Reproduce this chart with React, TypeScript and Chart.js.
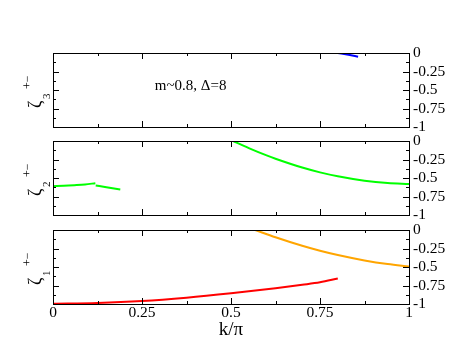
import React, { useEffect, useRef } from 'react';
import { Chart, registerables } from 'chart.js';
Chart.register(...registerables);

const xTickValues = [0, 0.25, 0.5, 0.75, 1];
const xTickLabels = ['0', '0.25', '0.5', '0.75', '1'];
const yTickValues = [0, -0.25, -0.5, -0.75, -1];
const yTickLabels = ['0', '-0.25', '-0.5', '-0.75', '-1'];
const xTitle = 'k/π';
const annotation = 'm~0.8, Δ=8';

// zeta_3 (blue)
const zeta3K = [0.8, 0.83, 0.857];
const zeta3 = [0, -0.025, -0.05];
// zeta_2 (green), three branches
const zeta2aK = [0, 0.03, 0.06, 0.09, 0.119];
const zeta2a = [-0.61, -0.605, -0.597, -0.587, -0.57];
const zeta2bK = [0.12, 0.15, 0.189];
const zeta2b = [-0.6, -0.625, -0.656];
const zeta2cK = [0.506, 0.55, 0.6, 0.625, 0.7, 0.75, 0.8, 0.875, 0.94, 1.0];
const zeta2c = [0, -0.096, -0.195, -0.24, -0.359, -0.424, -0.477, -0.537, -0.568, -0.58];
// zeta_1 (orange + red)
const zeta1aK = [0.568, 0.625, 0.7, 0.75, 0.8, 0.875, 0.94, 1.0];
const zeta1a = [0, -0.098, -0.213, -0.28, -0.338, -0.411, -0.46, -0.493];
const zeta1bK = [0, 0.125, 0.25, 0.375, 0.5, 0.625, 0.7, 0.75, 0.8];
const zeta1b = [-0.995, -0.985, -0.959, -0.914, -0.855, -0.787, -0.74, -0.706, -0.656];

const W = 463;
const H = 358;
const LEFT = 53;
const RIGHT = 409;
const FONT = '"Liberation Serif", "Times New Roman", serif';

type Series = { k: number[]; v: number[]; color: string };
type Panel = { top: number; bottom: number; sub: string; series: Series[]; showX: boolean; note?: boolean };

const panels: Panel[] = [
  { top: 53, bottom: 127, sub: '3', series: [{ k: zeta3K, v: zeta3, color: '#0000ff' }], showX: false, note: true },
  {
    top: 141, bottom: 215, sub: '2',
    series: [
      { k: zeta2aK, v: zeta2a, color: '#00ff00' },
      { k: zeta2bK, v: zeta2b, color: '#00ff00' },
      { k: zeta2cK, v: zeta2c, color: '#00ff00' },
    ],
    showX: false,
  },
  {
    top: 230, bottom: 304, sub: '1',
    series: [
      { k: zeta1aK, v: zeta1a, color: '#ffa500' },
      { k: zeta1bK, v: zeta1b, color: '#ff0000' },
    ],
    showX: true,
  },
];

function makeFramePlugin(p: Panel) {
  return {
    id: 'frame' + p.sub,
    afterDraw(chart: any) {
      const ctx = chart.ctx as CanvasRenderingContext2D;
      const { left, right, top, bottom } = chart.chartArea;
      const xs = chart.scales.x;
      const ys = chart.scales.y;
      ctx.save();
      ctx.strokeStyle = '#000';
      ctx.lineWidth = 1;
      ctx.strokeRect(Math.round(left) + 0.5, Math.round(top) + 0.5, Math.round(right - left), Math.round(bottom - top));
      ctx.beginPath();
      for (let i = 0; i <= 8; i++) {
        const v = i * 0.125;
        const len = i % 2 === 0 ? 6 : 3;
        const px = Math.round(xs.getPixelForValue(v)) + 0.5;
        ctx.moveTo(px, top);
        ctx.lineTo(px, top + len);
        ctx.moveTo(px, bottom);
        ctx.lineTo(px, bottom - len);
        const py = Math.round(ys.getPixelForValue(-v)) + 0.5;
        ctx.moveTo(left, py);
        ctx.lineTo(left + len, py);
        ctx.moveTo(right, py);
        ctx.lineTo(right - len, py);
      }
      ctx.stroke();

      // left axis label: zeta_n^{+-}, rotated
      const cy = (top + bottom) / 2;
      ctx.translate(41, cy + 18);
      ctx.rotate(-Math.PI / 2);
      ctx.fillStyle = '#000';
      ctx.textBaseline = 'alphabetic';
      ctx.textAlign = 'left';
      ctx.font = '18px ' + FONT;
      ctx.fillText('ζ', 0, 0);
      ctx.font = '11px ' + FONT;
      ctx.fillText(p.sub, 9, 9);
      ctx.font = '12px ' + FONT;
      ctx.fillText('+−', 19, -10.5);
      ctx.restore();

      if (p.note) {
        ctx.save();
        ctx.fillStyle = '#000';
        ctx.font = '15px ' + FONT;
        ctx.textBaseline = 'alphabetic';
        ctx.textAlign = 'left';
        ctx.fillText(annotation, xs.getPixelForValue(0.286), ys.getPixelForValue(-0.5));
        ctx.restore();
      }
    },
  };
}

function PanelChart({ p }: { p: Panel }) {
  const ref = useRef<HTMLCanvasElement | null>(null);
  useEffect(() => {
    if (!ref.current) return;
    const chart = new Chart(ref.current, {
      type: 'scatter',
      data: {
        datasets: p.series.map((s) => ({
          data: s.k.map((k, i) => ({ x: k, y: s.v[i] })),
          showLine: true,
          borderColor: s.color,
          backgroundColor: s.color,
          borderWidth: 2,
          pointRadius: 0,
          cubicInterpolationMode: 'monotone' as const,
        })),
      },
      options: {
        responsive: false,
        animation: false,
        devicePixelRatio: 1,
        events: [],
        layout: { padding: { left: LEFT, top: p.top, right: 0, bottom: p.showX ? 0 : H - p.bottom } },
        plugins: { legend: { display: false }, tooltip: { enabled: false } },
        scales: {
          x: {
            type: 'linear',
            min: 0,
            max: 1,
            display: p.showX,
            afterBuildTicks: (s: any) => { s.ticks = xTickValues.map((v) => ({ value: v })); },
            afterFit: (s: any) => { s.height = p.showX ? H - p.bottom : 0; },
            grid: { display: false, drawTicks: false },
            border: { display: false },
            ticks: {
              padding: 0,
              maxRotation: 0,
              autoSkip: false,
              color: '#000',
              font: { family: FONT, size: 15.5 },
              callback: (v: any) => xTickLabels[xTickValues.indexOf(Number(v))] ?? '',
            },
            title: {
              display: true,
              text: xTitle,
              color: '#000',
              font: { family: FONT, size: 19 },
              padding: { top: 0, bottom: 17 },
            },
          },
          y: {
            type: 'linear',
            position: 'right',
            min: -1,
            max: 0,
            afterBuildTicks: (s: any) => { s.ticks = yTickValues.map((v) => ({ value: v })); },
            afterFit: (s: any) => { s.width = W - RIGHT; },
            grid: { display: false, drawTicks: false },
            border: { display: false },
            ticks: {
              padding: 4,
              autoSkip: false,
              color: '#000',
              font: { family: FONT, size: 15.5 },
              callback: (v: any) => yTickLabels[yTickValues.indexOf(Number(v))] ?? '',
            },
          },
        },
      },
      plugins: [makeFramePlugin(p)],
    } as any);
    return () => chart.destroy();
  }, [p]);
  return (
    <canvas
      ref={ref}
      width={W}
      height={H}
      style={{ position: 'absolute', left: 0, top: 0, width: W, height: H }}
    />
  );
}

export default function App() {
  return (
    <div style={{ position: 'fixed', left: 0, top: 0, width: W, height: H, background: '#fff' }}>
      {panels.map((p) => (
        <PanelChart key={p.sub} p={p} />
      ))}
    </div>
  );
}
